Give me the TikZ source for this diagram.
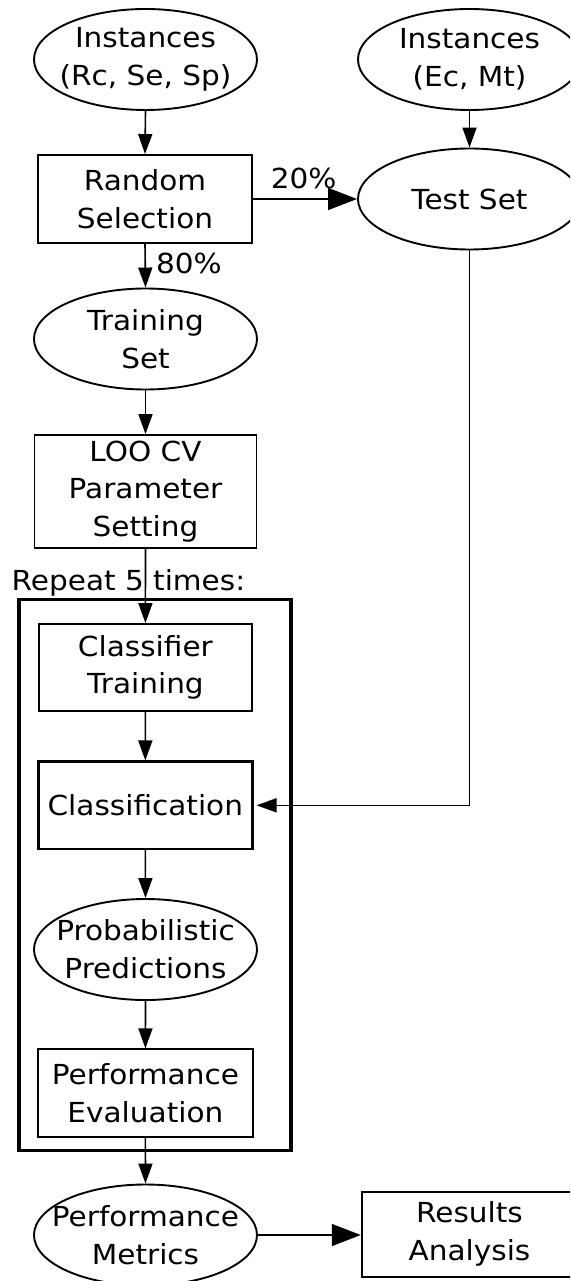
\documentclass[tikz,border=0pt]{standalone}
\usepackage{fontspec}
\setmainfont{DejaVu Sans}[FakeStretch=1.07]
\usetikzlibrary{shapes.geometric,arrows.meta}
\tikzset{
  txt/.style={font=\fontsize{27.6}{37.7}\selectfont, align=center, inner sep=0pt},
  ellip/.style={ellipse, draw, line width=1.9pt, minimum width=223pt, minimum height=101pt, inner sep=0pt},
  etext/.style={txt},
  boxn/.style={txt, rectangle, draw, line width=1.9pt, minimum width=214pt},
  arr/.style={line width=1.6pt, -{Triangle[length=20pt,width=14pt]}},
  bigarr/.style={line width=1.6pt, -{Triangle[length=29pt,width=22pt]}},
  lbl/.style={font=\fontsize{27.6}{37.7}\selectfont, inner sep=0pt}
}
\begin{document}
\begin{tikzpicture}[x=1pt,y=-1pt]
\useasboundingbox (0,0) rectangle (570,1281);
\clip (0,0) rectangle (570,1281);
% nodes
\node[ellip, label={[etext]center:{Instances\\(Rc, Se, Sp)}}] (inA) at (145.5,59.5) {};
\node[ellip, label={[etext]center:{Instances\\(Ec, Mt)}}] (inB) at (469.5,59.5) {};
\node[boxn, minimum height=88pt] (rs) at (145,199) {Random\\Selection};
\node[ellip, label={[etext]center:{Test Set}}] (ts) at (469.5,199) {};
\node[ellip, label={[etext]center:{Training\\Set}}] (tr) at (145.5,339) {};
\node[boxn, minimum width=222pt, minimum height=112.7pt] (loo) at (145.5,491.4) {LOO CV\\Parameter\\Setting};
\node[boxn, minimum width=212.7pt, minimum height=87pt] (ct) at (145.4,667.5) {Classifier\\Training};
\node[boxn, line width=2.4pt, minimum height=87.3pt] (cl) at (145.3,805.3) {Classification};
\node[ellip, label={[etext]center:{Probabilistic\\Predictions}}] (pp) at (145.5,949.5) {};
\node[boxn, minimum width=214.7pt, minimum height=87.4pt] (pe) at (145.4,1093) {Performance\\Evaluation};
\node[ellip, label={[etext]center:{Performance\\Metrics}}] (pm) at (145.5,1235) {};
\node[boxn, minimum width=215.6pt, minimum height=85pt] (ra) at (469.5,1234.2) {Results\\Analysis};
% loop frame and label
\draw[line width=3.4pt] (19,599.3) rectangle (291,1150.7);
\node[lbl, anchor=base west] (rep) at (11.5,590.7) {Repeat 5 times:};
% connectors
\draw[arr] (inA.south) -- (rs.north);
\draw[arr] (inB.south) -- (ts.north);
\draw[bigarr] (rs.east) -- (ts.west);
\node[lbl, anchor=base] (p20) at (303.7,188.3) {20\%};
\draw[arr] (rs.south) -- (tr.north);
\node[lbl, anchor=base] (p80) at (189,273.3) {80\%};
\draw[arr] (tr.south) -- (loo.north);
\draw[arr] (loo.south) -- (ct.north);
\draw[arr] (ct.south) -- (cl.north);
\draw[arr, shorten >=3pt] (ts.south) |- (cl.east);
\draw[arr] (cl.south) -- (pp.north);
\draw[arr] (pp.south) -- (pe.north);
\draw[arr] (pe.south) -- (pm.north);
\draw[bigarr] (pm.east) -- (pm.east -| ra.west);
\end{tikzpicture}
\end{document}
